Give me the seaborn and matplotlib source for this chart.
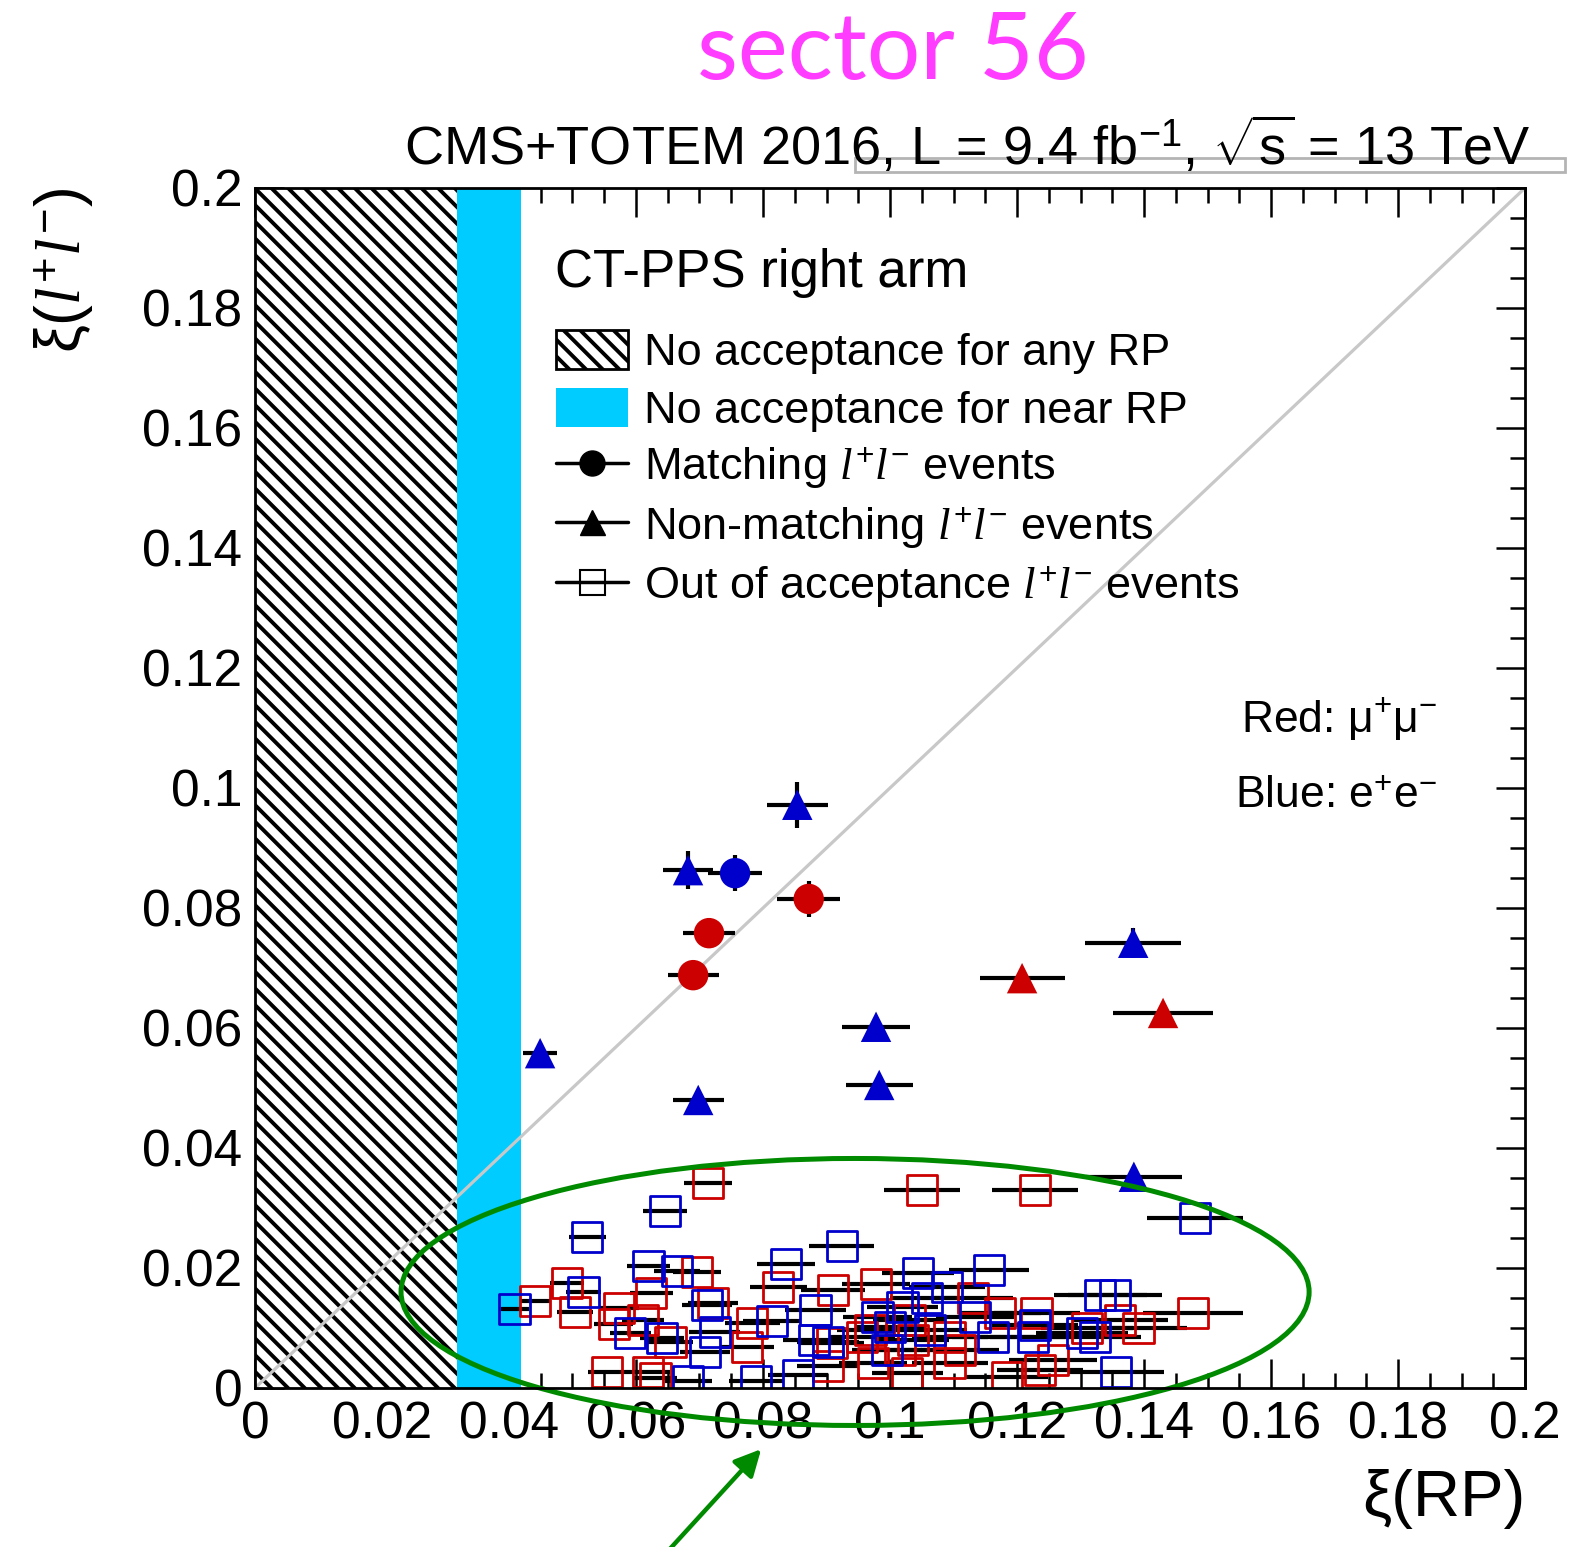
import matplotlib
matplotlib.use("Agg")
import matplotlib.pyplot as plt
import pandas as pd
import seaborn as sns
from matplotlib.lines import Line2D
from matplotlib.patches import Ellipse, Patch, Rectangle

# ---- data ----
# out of acceptance events, mu+mu-
red_sq_x = [0.0713, 0.0696, 0.0491, 0.0441, 0.0504, 0.0624, 0.0573, 0.0565, 0.0611, 0.0654,
            0.0721, 0.0775, 0.0783, 0.0824, 0.0910, 0.0978, 0.0909, 0.0902, 0.0631, 0.0554,
            0.1050, 0.1228, 0.1477, 0.1131, 0.1173, 0.0969, 0.1031, 0.1094, 0.1016, 0.1036,
            0.1110, 0.1027, 0.1094, 0.1184, 0.0973, 0.1231, 0.1310, 0.1391, 0.1257, 0.1236,
            0.0956, 0.0619, 0.1362]
red_sq_y = [0.0342, 0.0193, 0.0175, 0.0145, 0.0127, 0.0158, 0.0133, 0.0107, 0.0113, 0.0077,
            0.0142, 0.0068, 0.0108, 0.0168, 0.0163, 0.0173, 0.0075, 0.0037, 0.0017, 0.0027,
            0.0330, 0.0330, 0.0125, 0.0150, 0.0125, 0.0097, 0.0113, 0.0085, 0.0063, 0.0080,
            0.0063, 0.0025, 0.0042, 0.0018, 0.0042, 0.0125, 0.0100, 0.0100, 0.0047, 0.0030,
            0.0085, 0.0027, 0.0113]
red_sq_xerr = [0.0038, 0.0038, 0.0027, 0.0024, 0.0028, 0.0034, 0.0031, 0.0031, 0.0033, 0.0036,
               0.0039, 0.0042, 0.0043, 0.0045, 0.0050, 0.0054, 0.0050, 0.0049, 0.0034, 0.0030,
               0.0060, 0.0068, 0.0079, 0.0062, 0.0064, 0.0053, 0.0057, 0.0060, 0.0056, 0.0057,
               0.0061, 0.0056, 0.0060, 0.0065, 0.0053, 0.0068, 0.0072, 0.0076, 0.0069, 0.0068,
               0.0052, 0.0034, 0.0075]

# out of acceptance events, e+e-
blue_sq_x = [0.0646, 0.0523, 0.0517, 0.0409, 0.0620, 0.0665, 0.0591, 0.0641, 0.0712, 0.0724,
             0.0709, 0.0814, 0.0836, 0.0924, 0.0883, 0.0880, 0.0902, 0.0855, 0.0789, 0.0682,
             0.1480, 0.1044, 0.1156, 0.1090, 0.1058, 0.1020, 0.1134, 0.1000, 0.1063, 0.1162,
             0.0995, 0.1331, 0.1354, 0.1228, 0.1225, 0.1302, 0.1323, 0.1356, 0.0980]
blue_sq_y = [0.0295, 0.0252, 0.0160, 0.0132, 0.0203, 0.0195, 0.0092, 0.0083, 0.0138, 0.0093,
             0.0060, 0.0112, 0.0207, 0.0237, 0.0130, 0.0080, 0.0077, 0.0022, 0.0012, 0.0012,
             0.0283, 0.0192, 0.0197, 0.0168, 0.0150, 0.0135, 0.0118, 0.0102, 0.0097, 0.0085,
             0.0063, 0.0155, 0.0155, 0.0105, 0.0085, 0.0092, 0.0085, 0.0027, 0.0118]
blue_sq_xerr = [0.0035, 0.0029, 0.0028, 0.0022, 0.0034, 0.0036, 0.0032, 0.0035, 0.0039, 0.0040,
                0.0039, 0.0045, 0.0046, 0.0051, 0.0048, 0.0048, 0.0049, 0.0047, 0.0043, 0.0037,
                0.0076, 0.0057, 0.0063, 0.0060, 0.0058, 0.0056, 0.0062, 0.0055, 0.0058, 0.0064,
                0.0055, 0.0073, 0.0074, 0.0068, 0.0067, 0.0072, 0.0073, 0.0075, 0.0054]

# events inside acceptance
ev_x = [0.0756, 0.0872, 0.0715, 0.0690,
        0.0854, 0.0682, 0.0449, 0.0698, 0.0978, 0.0983, 0.1383, 0.1208, 0.1430, 0.1384]
ev_y = [0.0858, 0.0815, 0.0758, 0.0688,
        0.0972, 0.0863, 0.0558, 0.0480, 0.0602, 0.0505, 0.0742, 0.0683, 0.0625, 0.0352]
ev_xerr = [0.0043, 0.0050, 0.0041, 0.0040,
           0.0048, 0.0039, 0.0027, 0.0040, 0.0053, 0.0053, 0.0076, 0.0067, 0.0079, 0.0076]
ev_yerr = [0.0030, 0.0030, 0.0025, 0.0020,
           0.0038, 0.0032, 0.0012, 0.0010, 0.0010, 0.0010, 0.0025, 0.0010, 0.0010, 0.0010]
ev_lepton = ["ee", "mumu", "mumu", "mumu",
             "ee", "ee", "ee", "ee", "ee", "ee", "ee", "mumu", "mumu", "ee"]
ev_kind = ["match", "match", "match", "match",
           "nonmatch", "nonmatch", "nonmatch", "nonmatch", "nonmatch", "nonmatch",
           "nonmatch", "nonmatch", "nonmatch", "nonmatch"]

no_any_rp = 0.0318   # upper edge of no acceptance for any RP
no_near_rp = 0.0419  # upper edge of no acceptance for near RP

tick_vals = [0, 0.02, 0.04, 0.06, 0.08, 0.1, 0.12, 0.14, 0.16, 0.18, 0.2]
tick_labels = ["0", "0.02", "0.04", "0.06", "0.08", "0.1", "0.12", "0.14", "0.16", "0.18", "0.2"]

RED = "#cc0000"
BLUE = "#0000cc"
CYAN = "#00ccff"
GREEN = "#008a00"

sns.set_theme(style="ticks")
plt.rcParams["font.family"] = ["Liberation Sans", "DejaVu Sans"]
plt.rcParams["mathtext.fontset"] = "custom"
plt.rcParams["mathtext.rm"] = "Liberation Sans"
plt.rcParams["mathtext.it"] = "Liberation Serif:italic"
plt.rcParams["hatch.linewidth"] = 2.8
plt.rcParams["text.color"] = "black"
plt.rcParams["axes.labelcolor"] = "black"

fig = plt.figure(figsize=(15.73, 15.47), dpi=100)
ax = fig.add_axes([0.1621, 0.1028, 0.8074, 0.7757])

# acceptance bands
ax.axvspan(0, no_any_rp, facecolor="white", edgecolor="black", hatch="\\\\",
           linewidth=0, zorder=1)
ax.axvspan(no_any_rp, no_near_rp, facecolor=CYAN, edgecolor="none", zorder=1)

# diagonal
ax.plot([0, 0.2], [0, 0.2], color="#c8c8c8", linewidth=2.3, zorder=2)

# out-of-acceptance squares
for xs, ys, xe, col in [(red_sq_x, red_sq_y, red_sq_xerr, RED),
                        (blue_sq_x, blue_sq_y, blue_sq_xerr, BLUE)]:
    ax.errorbar(xs, ys, xerr=xe, fmt="none", ecolor="black", elinewidth=3, capsize=0, zorder=3)
    sns.scatterplot(x=xs, y=ys, marker="s", s=480, ax=ax, legend=False, zorder=4)
    coll = ax.collections[-1]
    coll.set_facecolor("none")
    coll.set_edgecolor(col)
    coll.set_linewidth(2.0)

# matching / non-matching events
ev = pd.DataFrame({"x": ev_x, "y": ev_y, "xerr": ev_xerr, "yerr": ev_yerr,
                   "lepton": ev_lepton, "kind": ev_kind})
ax.errorbar(ev["x"], ev["y"], xerr=ev["xerr"], yerr=ev["yerr"], fmt="none",
            ecolor="black", elinewidth=3, capsize=0, zorder=5)
sns.scatterplot(data=ev, x="x", y="y", hue="lepton", style="kind",
                palette={"mumu": RED, "ee": BLUE}, markers={"match": "o", "nonmatch": "^"},
                s=480, linewidth=0, ax=ax, legend=False, zorder=6)

# highlight ellipse
ax.add_patch(Ellipse((0.0945, 0.016), 0.143, 0.0445, fill=False, edgecolor=GREEN,
                     linewidth=3.6, clip_on=False, zorder=7))

# axes styling
ax.set_xlim(0, 0.2)
ax.set_ylim(0, 0.2)
ax.set_xticks(tick_vals)
ax.set_yticks(tick_vals)
ax.set_xticklabels(tick_labels)
ax.set_yticklabels(tick_labels)
ax.set_xticks([v / 1000 for v in range(0, 201, 5)], minor=True)
ax.set_yticks([v / 1000 for v in range(0, 201, 5)], minor=True)
ax.tick_params(which="both", direction="in", top=True, right=True, width=1.8,
               labelsize=37, color="black", labelcolor="black")
ax.tick_params(which="major", length=21, pad=9)
ax.tick_params(which="minor", length=11)
for sp in ax.spines.values():
    sp.set_linewidth(2.0)
    sp.set_color("black")
    sp.set_zorder(8)

ax.set_xlabel("ξ(RP)", fontsize=47, loc="right", labelpad=14)
ax.set_ylabel("ξ($l^{+}l^{-}$)", fontsize=45, loc="top")
ax.yaxis.set_label_coords(-0.125, 1.0)

# legend
ax.text(0.2362, 0.929, "CT-PPS right arm", transform=ax.transAxes,
        fontsize=38, ha="left", va="center")
handles = [
    Patch(facecolor="white", edgecolor="black", hatch="\\\\", linewidth=2),
    Patch(facecolor=CYAN, edgecolor="none"),
    Line2D([], [], color="black", lw=2.5, marker="o", markersize=18),
    Line2D([], [], color="black", lw=2.5, marker="^", markersize=18),
    Line2D([], [], color="black", lw=2.5, marker="s", markersize=18,
           markerfacecolor="none", markeredgewidth=1.5),
]
labels = ["No acceptance for any RP", "No acceptance for near RP",
          "Matching $l^{+}l^{-}$ events", "Non-matching $l^{+}l^{-}$ events",
          "Out of acceptance $l^{+}l^{-}$ events"]
leg = ax.legend(handles, labels, loc="upper left", bbox_to_anchor=(0.237, 0.8815),
                frameon=False, fontsize=32.5, handlelength=1.6, handleheight=0.95,
                handletextpad=0.35, labelspacing=0.30, borderpad=0, borderaxespad=0)
leg.set_zorder(9)

ax.text(0.9307, 0.558, "Red: $\\mathrm{\\mu^{+}\\mu^{-}}$", transform=ax.transAxes,
        fontsize=32, ha="right", va="center")
ax.text(0.9307, 0.4925, "Blue: e$^{+}$e$^{-}$", transform=ax.transAxes,
        fontsize=32, ha="right", va="center")

# header texts
fig.text(0.973, 0.906, "CMS+TOTEM 2016, L = 9.4 fb$^{-1}$, $\\sqrt{\\mathrm{s}}$ = 13 TeV",
         fontsize=39, ha="right", va="center")
fig.text(0.5677, 0.966, "sector 56", fontsize=68, color="#ff3cff", ha="center",
         va="center", family=["Lato", "Liberation Sans"])
fig.add_artist(Rectangle((0.5435, 0.8888), 0.4514, 0.0090, transform=fig.transFigure,
                         fill=False, edgecolor="#b4b4b4", linewidth=2))

# arrow pointing at the cluster
ax.annotate("", xy=(0.4851, 0.0646), xycoords="figure fraction",
            xytext=(0.418, -0.01), textcoords="figure fraction",
            arrowprops=dict(arrowstyle="-|>", color=GREEN, lw=3.2, mutation_scale=40))

fig.savefig("out.png", dpi=100)
